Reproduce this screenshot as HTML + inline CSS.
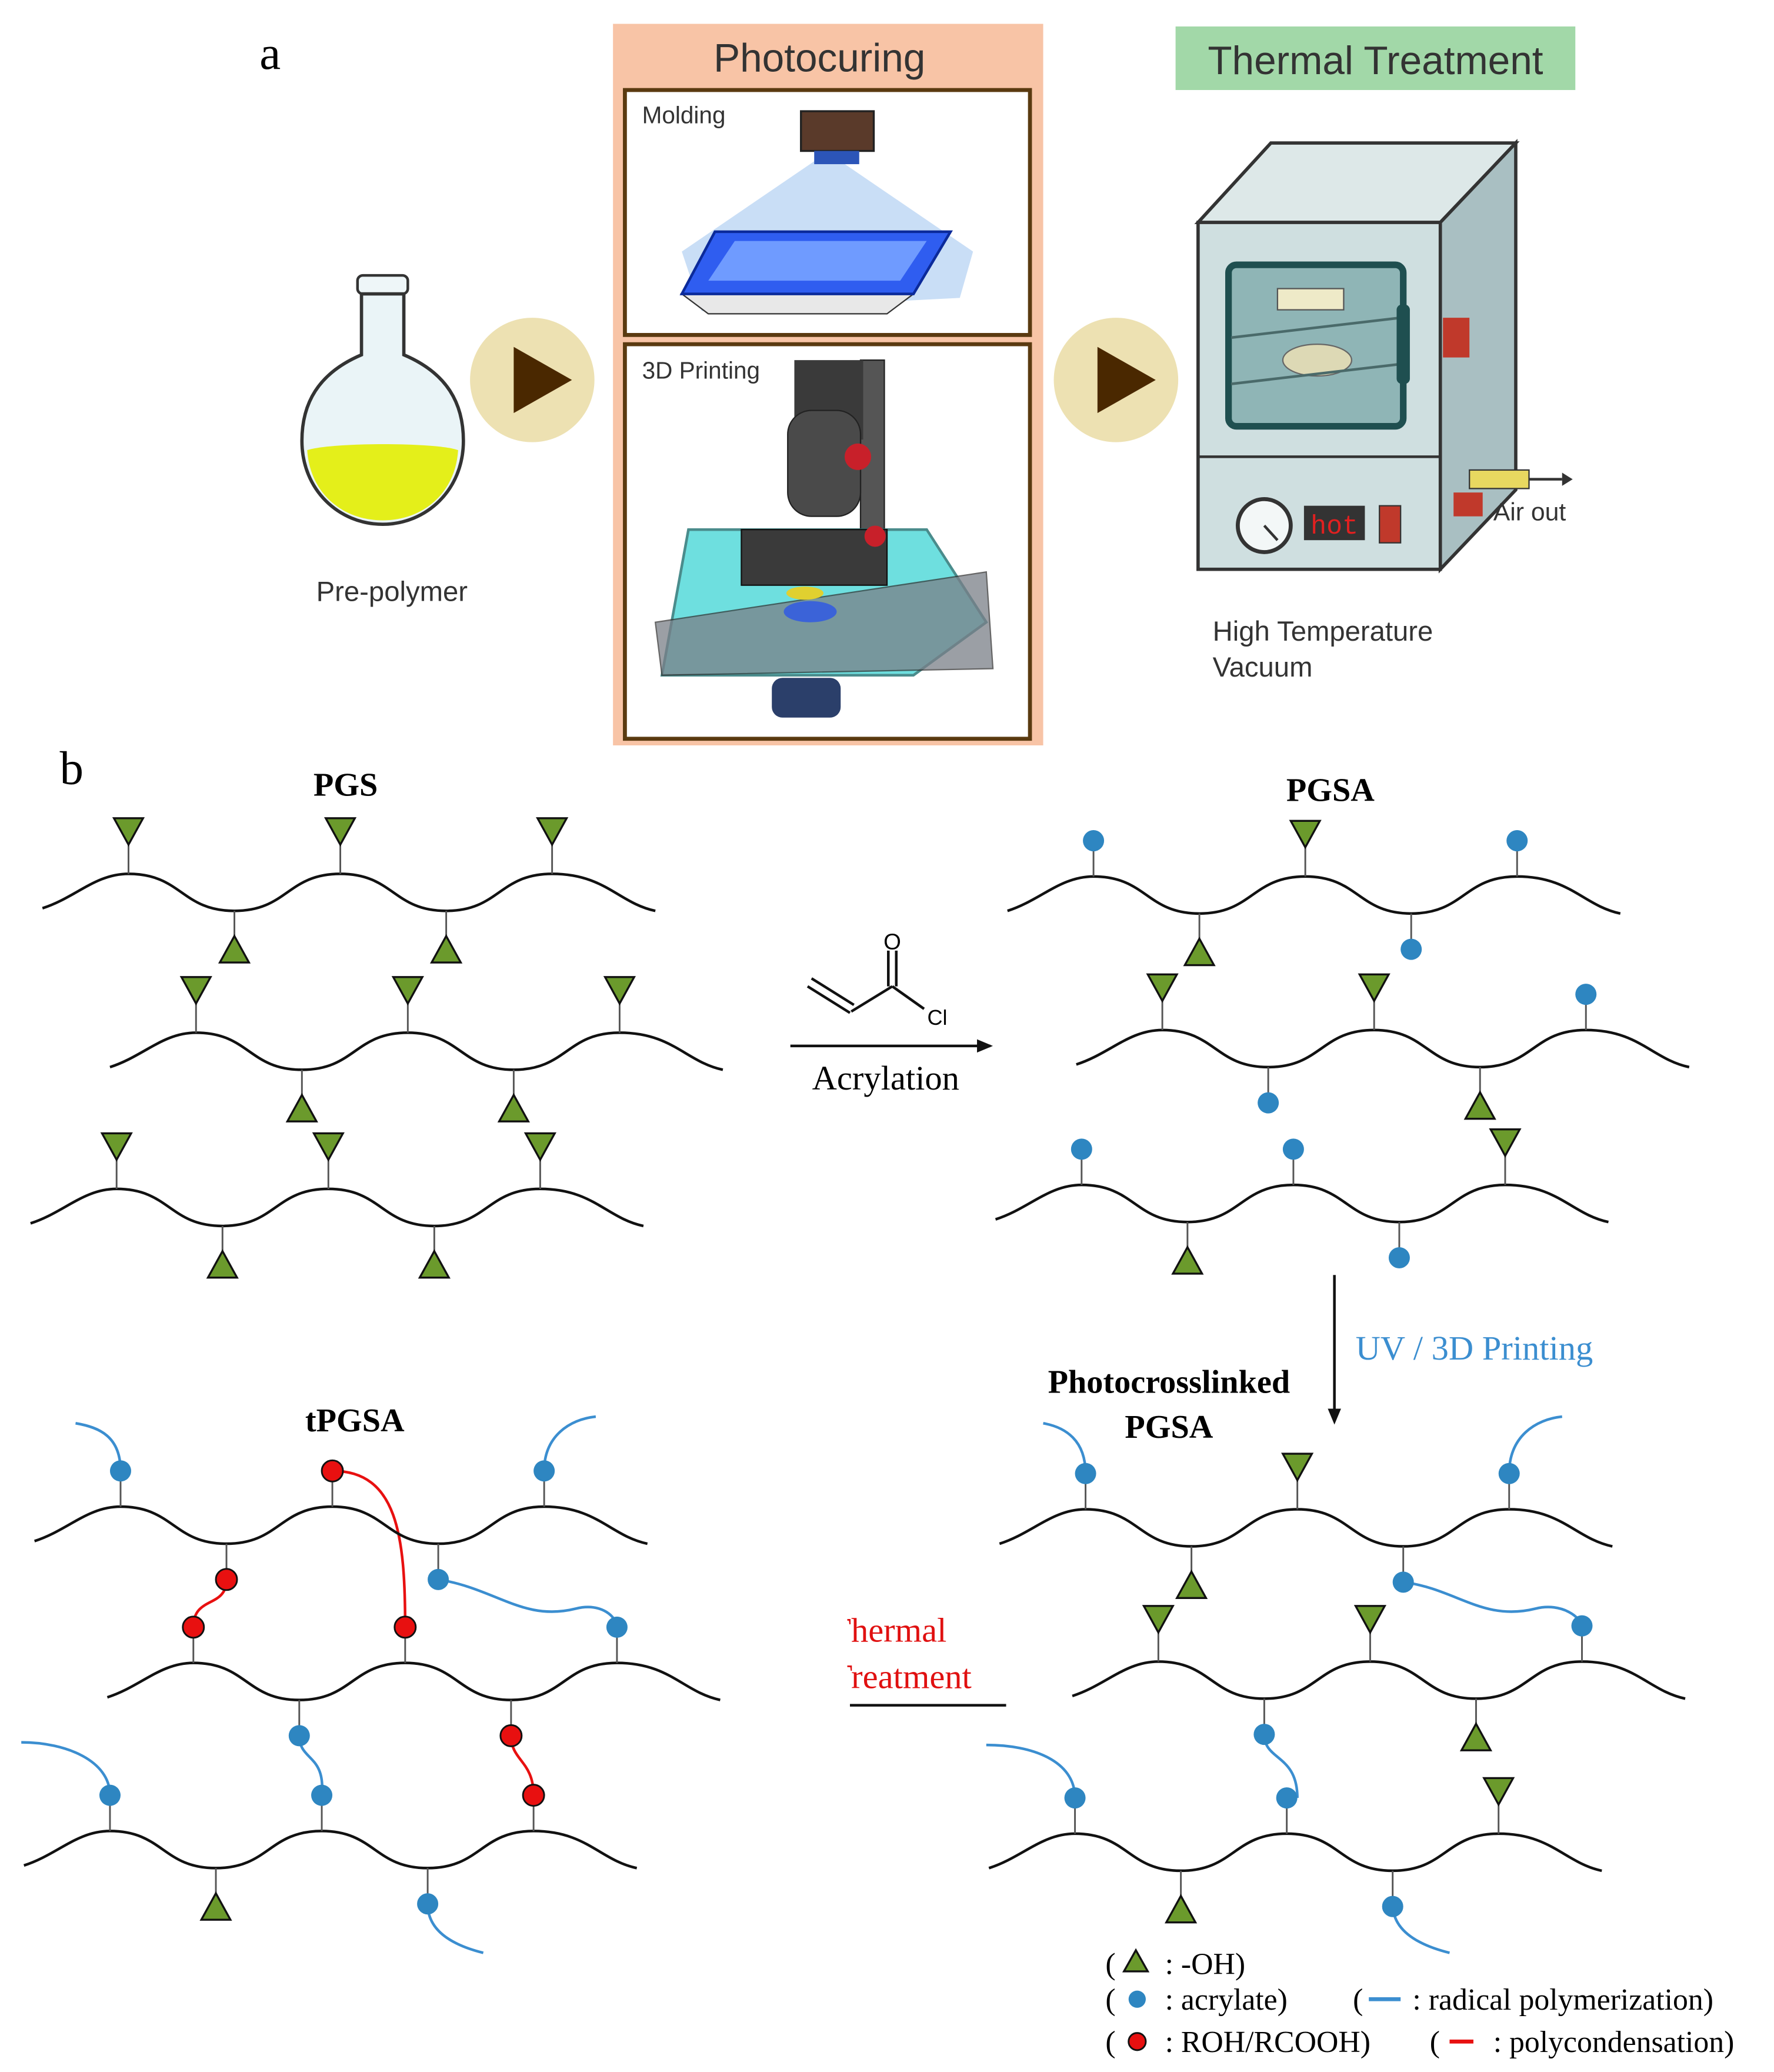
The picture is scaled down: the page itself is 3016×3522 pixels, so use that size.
<!DOCTYPE html>
<html><head><meta charset="utf-8"><style>html,body{margin:0;padding:0;background:#fff}svg{display:block}</style></head>
<body>
<svg width="3016" height="3522" viewBox="0 0 1340 1565" xmlns="http://www.w3.org/2000/svg">
<defs>
<path id="ch" d="M-65,26 C-40,18 -25,0 0,0 C40,0 40,28 80,28 C120,28 120,0 160,0 C200,0 200,28 240,28 C280,28 280,0 320,0 C360,0 370,22 398,28" fill="none" stroke="#111" stroke-width="2"/>
<g id="ut"><line x1="0" y1="0" x2="0" y2="-22" stroke="#555" stroke-width="1.3"/><polygon points="-11,-42 11,-42 0,-22" fill="#6b9a2c" stroke="#111" stroke-width="1.5"/></g>
<g id="uc"><line x1="0" y1="0" x2="0" y2="-20" stroke="#555" stroke-width="1.3"/><circle cx="0" cy="-27" r="8" fill="#2e86c1"/></g>
<g id="ur"><line x1="0" y1="0" x2="0" y2="-20" stroke="#555" stroke-width="1.3"/><circle cx="0" cy="-27" r="8" fill="#e81010" stroke="#111" stroke-width="1.3"/></g>
<g id="dt"><line x1="0" y1="28" x2="0" y2="48" stroke="#555" stroke-width="1.3"/><polygon points="0,47 -11,67 11,67" fill="#6b9a2c" stroke="#111" stroke-width="1.5"/></g>
<g id="dc"><line x1="0" y1="28" x2="0" y2="48" stroke="#555" stroke-width="1.3"/><circle cx="0" cy="55" r="8" fill="#2e86c1"/></g>
<g id="dr"><line x1="0" y1="28" x2="0" y2="48" stroke="#555" stroke-width="1.3"/><circle cx="0" cy="55" r="8" fill="#e81010" stroke="#111" stroke-width="1.3"/></g>
</defs>

<!-- ===== Panel a ===== -->
<text x="196" y="52" font-family="Liberation Serif" font-size="36">a</text>

<rect x="270" y="208" width="38" height="14" rx="4" fill="#eef6f8" stroke="#333" stroke-width="2"/>
<path d="M273,222 L273,268 C240,282 228,305 228,333 C228,370 256,396 289,396 C322,396 350,370 350,333 C350,305 338,282 305,268 L305,222 Z" fill="#eaf4f7" stroke="#333" stroke-width="2.5"/>
<path d="M232,340 C250,334 330,334 346,340 C344,372 320,393 289,393 C258,393 234,372 232,340 Z" fill="#e4ef1a"/>
<text x="296" y="454" font-family="Liberation Sans" font-size="21" text-anchor="middle" fill="#333">Pre-polymer</text>

<circle cx="402" cy="287" r="47" fill="#ede1b2"/>
<polygon points="388,262 388,312 432,287" fill="#4a2800"/>
<circle cx="843" cy="287" r="47" fill="#ede1b2"/>
<polygon points="829,262 829,312 873,287" fill="#4a2800"/>

<rect x="463" y="18" width="325" height="545" fill="#f8c4a6"/>
<text x="619" y="54" font-family="Liberation Sans" font-size="30" text-anchor="middle" fill="#333">Photocuring</text>
<rect x="472" y="68" width="306" height="185" fill="#fff" stroke="#5a3a10" stroke-width="3"/>
<text x="485" y="93" font-family="Liberation Sans" font-size="18" fill="#333">Molding</text>
<polygon points="625,115 515,190 530,235 725,225 735,190" fill="#bcd6f4" opacity="0.8"/>
<rect x="605" y="84" width="55" height="30" fill="#5a3a2a" stroke="#222" stroke-width="1.5"/>
<rect x="615" y="114" width="34" height="10" fill="#2c55b8"/>
<polygon points="515,222 690,222 670,237 535,237" fill="#e8e8e8" stroke="#333"/>
<polygon points="540,175 718,175 690,222 515,222" fill="#2f5df0" stroke="#0b2a9a" stroke-width="2"/>
<polygon points="555,182 700,182 680,212 535,212" fill="#6f9bff"/>
<rect x="472" y="260" width="306" height="298" fill="#fff" stroke="#5a3a10" stroke-width="3"/>
<text x="485" y="286" font-family="Liberation Sans" font-size="18" fill="#333">3D Printing</text>
<rect x="650" y="272" width="18" height="145" fill="#555" stroke="#222"/>
<rect x="600" y="272" width="52" height="60" fill="#3a3a3a"/>
<rect x="595" y="310" width="55" height="80" rx="18" fill="#4a4a4a" stroke="#222"/>
<circle cx="648" cy="345" r="10" fill="#c8202a"/>
<polygon points="520,400 700,400 745,470 690,510 500,510" fill="#4ad8d8" opacity="0.8" stroke="#1d7070" stroke-width="2"/>
<polygon points="495,470 745,432 750,505 500,510" fill="#7a7f88" opacity="0.75" stroke="#333"/>
<rect x="560" y="400" width="110" height="42" fill="#3a3a3a" stroke="#111"/>
<ellipse cx="612" cy="462" rx="20" ry="8" fill="#3b63d8"/>
<ellipse cx="608" cy="448" rx="14" ry="5" fill="#e0d030"/>
<rect x="583" y="512" width="52" height="30" rx="8" fill="#2b3f6a"/>
<circle cx="661" cy="405" r="8" fill="#c8202a"/>

<rect x="888" y="20" width="302" height="48" fill="#a2d8a8"/>
<text x="1039" y="56" font-family="Liberation Sans" font-size="30" text-anchor="middle" fill="#333">Thermal Treatment</text>
<polygon points="905,168 960,108 1145,108 1088,168" fill="#dde8e8" stroke="#333" stroke-width="2.5"/>
<polygon points="1088,168 1145,108 1145,370 1088,430" fill="#a9bfc2" stroke="#333" stroke-width="2.5"/>
<rect x="905" y="168" width="183" height="262" fill="#cfdfe0" stroke="#333" stroke-width="2.5"/>
<rect x="928" y="200" width="132" height="122" rx="6" fill="#8fb5b6" stroke="#1f4f50" stroke-width="5"/>
<rect x="965" y="218" width="50" height="16" fill="#eeeac8" stroke="#555"/>
<ellipse cx="995" cy="272" rx="26" ry="12" fill="#ddd9b5" stroke="#666"/>
<line x1="930" y1="255" x2="1058" y2="240" stroke="#4a6a6a" stroke-width="2"/>
<line x1="930" y1="290" x2="1058" y2="275" stroke="#4a6a6a" stroke-width="2"/>
<rect x="1055" y="230" width="10" height="60" rx="4" fill="#1f4f50"/>
<rect x="1090" y="240" width="20" height="30" fill="#c0392b"/>
<line x1="905" y1="345" x2="1088" y2="345" stroke="#333" stroke-width="2"/>
<circle cx="955" cy="397" r="20" fill="#f3f7f7" stroke="#333" stroke-width="3"/>
<line x1="955" y1="397" x2="965" y2="408" stroke="#333" stroke-width="2"/>
<rect x="985" y="382" width="46" height="26" fill="#333"/>
<text x="1008" y="403" font-family="Liberation Mono" font-size="20" text-anchor="middle" fill="#e02020">hot</text>
<rect x="1042" y="382" width="16" height="28" fill="#c0392b" stroke="#333"/>
<rect x="1110" y="355" width="45" height="14" fill="#e8d860" stroke="#333"/>
<line x1="1155" y1="362" x2="1180" y2="362" stroke="#333" stroke-width="2"/>
<polygon points="1180,357 1188,362 1180,367" fill="#333"/>
<rect x="1098" y="372" width="22" height="18" fill="#c0392b"/>
<text x="1128" y="393" font-family="Liberation Sans" font-size="19" fill="#333">Air out</text>
<text x="916" y="484" font-family="Liberation Sans" font-size="21" fill="#333">High Temperature</text>
<text x="916" y="511" font-family="Liberation Sans" font-size="21" fill="#333">Vacuum</text>

<!-- ===== Panel b ===== -->
<text x="45" y="592" font-family="Liberation Serif" font-size="36">b</text>
<g font-family="Liberation Serif" font-weight="bold" font-size="25" text-anchor="middle">
<text x="261" y="601">PGS</text>
<text x="1005" y="605">PGSA</text>
<text x="268" y="1081">tPGSA</text>
<text x="883" y="1052">Photocrosslinked</text>
<text x="883" y="1086">PGSA</text>
</g>

<g transform="translate(97,660)"><use href="#ch"/><use href="#ut"/><use href="#ut" x="160"/><use href="#ut" x="320"/><use href="#dt" x="80"/><use href="#dt" x="240"/></g>
<g transform="translate(148,780)"><use href="#ch"/><use href="#ut"/><use href="#ut" x="160"/><use href="#ut" x="320"/><use href="#dt" x="80"/><use href="#dt" x="240"/></g>
<g transform="translate(88,898)"><use href="#ch"/><use href="#ut"/><use href="#ut" x="160"/><use href="#ut" x="320"/><use href="#dt" x="80"/><use href="#dt" x="240"/></g>

<g transform="translate(826,662)"><use href="#ch"/><use href="#uc"/><use href="#ut" x="160"/><use href="#uc" x="320"/><use href="#dt" x="80"/><use href="#dc" x="240"/></g>
<g transform="translate(878,778)"><use href="#ch"/><use href="#ut"/><use href="#ut" x="160"/><use href="#uc" x="320"/><use href="#dc" x="80"/><use href="#dt" x="240"/></g>
<g transform="translate(817,895)"><use href="#ch"/><use href="#uc"/><use href="#uc" x="160"/><use href="#ut" x="320"/><use href="#dt" x="80"/><use href="#dc" x="240"/></g>

<g stroke="#111" stroke-width="2" fill="none">
<line x1="610" y1="745" x2="642" y2="765"/><line x1="613" y1="739" x2="645" y2="759"/>
<line x1="643" y1="764" x2="674" y2="745"/>
<line x1="674" y1="745" x2="698" y2="762"/>
<line x1="671" y1="745" x2="671" y2="718"/><line x1="677" y1="745" x2="677" y2="718"/>
<line x1="597" y1="790" x2="748" y2="790"/>
<line x1="1008" y1="963" x2="1008" y2="1073"/>
<line x1="642" y1="1288" x2="760" y2="1288"/>
</g>
<polygon points="750,790 738,785 738,795" fill="#111"/>
<polygon points="1008,1076 1003,1064 1013,1064" fill="#111"/>
<text x="674" y="717" font-family="Liberation Sans" font-size="17" text-anchor="middle">O</text>
<text x="708" y="774" font-family="Liberation Sans" font-size="16" text-anchor="middle">Cl</text>
<text x="669" y="823" font-family="Liberation Serif" font-size="26" text-anchor="middle">Acrylation</text>
<text x="1024" y="1027" font-family="Liberation Serif" font-size="26" fill="#3b8ed0">UV / 3D Printing</text>
<text x="627" y="1240" font-family="Liberation Serif" font-size="26" fill="#e01010">Thermal</text>
<text x="628" y="1275" font-family="Liberation Serif" font-size="26" fill="#e01010">Treatment</text>
<rect x="590" y="1205" width="50" height="80" fill="#fff"/>

<g fill="none" stroke="#3b8ed0" stroke-width="2">
<path d="M820,1113 C820,1088 805,1078 788,1075"/>
<path d="M1140,1113 C1140,1085 1160,1072 1180,1070"/>
<path d="M1060,1195 C1100,1200 1120,1225 1160,1215 C1180,1210 1195,1222 1195,1229"/>
<path d="M955,1310 C955,1330 980,1325 980,1358"/>
<path d="M812,1358 C812,1330 780,1318 745,1318"/>
<path d="M1052,1438 C1052,1460 1075,1470 1095,1475"/>
</g>
<g transform="translate(820,1140)"><use href="#ch"/><use href="#uc"/><use href="#ut" x="160"/><use href="#uc" x="320"/><use href="#dt" x="80"/><use href="#dc" x="240"/></g>
<g transform="translate(875,1255)"><use href="#ch"/><use href="#ut"/><use href="#ut" x="160"/><use href="#uc" x="320"/><use href="#dc" x="80"/><use href="#dt" x="240"/></g>
<g transform="translate(812,1385)"><use href="#ch"/><use href="#uc"/><use href="#uc" x="160"/><use href="#ut" x="320"/><use href="#dt" x="80"/><use href="#dc" x="240"/></g>

<g fill="none" stroke-width="2">
<path d="M91,1111 C91,1085 75,1078 57,1075" stroke="#3b8ed0"/>
<path d="M411,1111 C411,1085 430,1072 450,1070" stroke="#3b8ed0"/>
<path d="M331,1193 C375,1200 395,1225 435,1215 C455,1210 466,1222 466,1229" stroke="#3b8ed0"/>
<path d="M226,1311 C226,1330 246,1325 243,1356" stroke="#3b8ed0"/>
<path d="M83,1356 C83,1330 50,1316 16,1316" stroke="#3b8ed0"/>
<path d="M323,1438 C323,1460 345,1470 365,1475" stroke="#3b8ed0"/>
<path d="M171,1193 C171,1215 146,1205 146,1229" stroke="#e81010"/>
<path d="M251,1111 C300,1111 306,1160 306,1229" stroke="#e81010"/>
<path d="M386,1311 C386,1330 403,1330 403,1356" stroke="#e81010"/>
</g>
<g transform="translate(91,1138)"><use href="#ch"/><use href="#uc"/><use href="#ur" x="160"/><use href="#uc" x="320"/><use href="#dr" x="80"/><use href="#dc" x="240"/></g>
<g transform="translate(146,1256)"><use href="#ch"/><use href="#ur"/><use href="#ur" x="160"/><use href="#uc" x="320"/><use href="#dc" x="80"/><use href="#dr" x="240"/></g>
<g transform="translate(83,1383)"><use href="#ch"/><use href="#uc"/><use href="#uc" x="160"/><use href="#ur" x="320"/><use href="#dt" x="80"/><use href="#dc" x="240"/></g>

<g font-family="Liberation Serif" font-size="23">
<text x="835" y="1491">(</text>
<polygon points="858,1473 849,1489 867,1489" fill="#6b9a2c" stroke="#111" stroke-width="1.5"/>
<text x="880" y="1491">: -OH)</text>
<text x="835" y="1518">(</text><circle cx="859" cy="1510" r="6.5" fill="#2e86c1"/>
<text x="880" y="1518">: acrylate)</text>
<text x="1022" y="1518">(</text><line x1="1034" y1="1510" x2="1058" y2="1510" stroke="#3b8ed0" stroke-width="3"/>
<text x="1067" y="1518">: radical polymerization)</text>
<text x="835" y="1550">(</text><circle cx="859" cy="1542" r="6.5" fill="#e81010" stroke="#111" stroke-width="1.3"/>
<text x="880" y="1550">: ROH/RCOOH)</text>
<text x="1080" y="1550">(</text><line x1="1095" y1="1542" x2="1113" y2="1542" stroke="#e81010" stroke-width="3"/>
<text x="1128" y="1550">: polycondensation)</text>
</g>
</svg>
</body></html>
